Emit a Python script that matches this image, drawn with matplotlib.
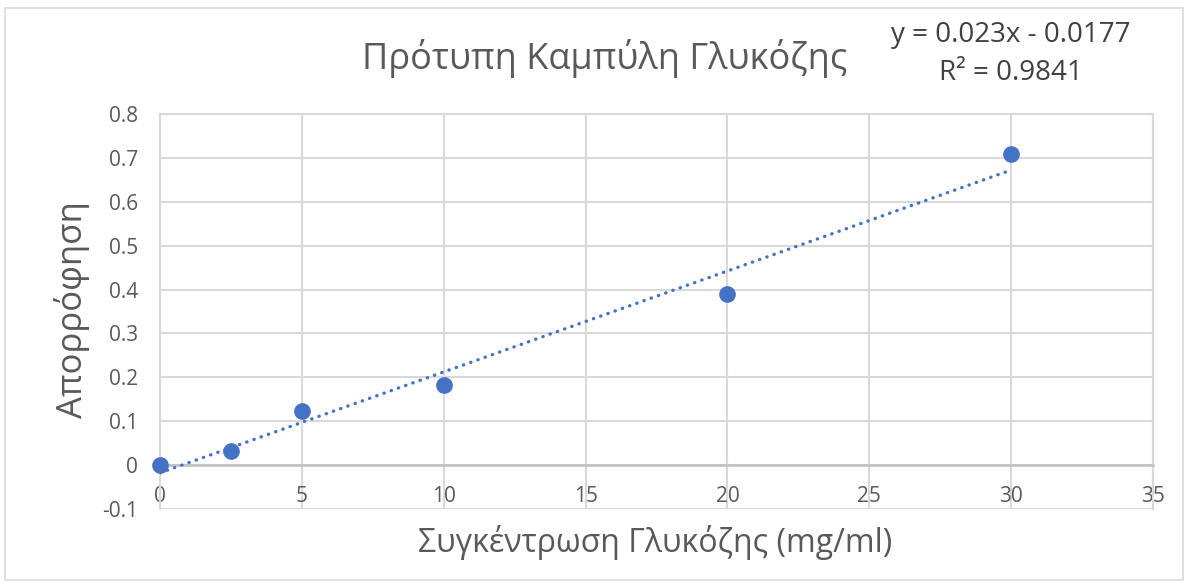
import matplotlib
matplotlib.use("Agg")
import matplotlib.pyplot as plt
from matplotlib.patches import Rectangle
import numpy as np

plt.rcParams['font.family'] = ['Open Sans', 'DejaVu Sans']

# Data
conc = [0, 2.5, 5, 10, 20, 30]
absorb = [0.0, 0.033, 0.123, 0.183, 0.391, 0.708]
slope = 0.023
intercept = -0.0177
r2 = 0.9841
title = "Πρότυπη Καμπύλη Γλυκόζης"
xlabel = "Συγκέντρωση Γλυκόζης (mg/ml)"
ylabel = "Απορρόφηση"
xticks = [0, 5, 10, 15, 20, 25, 30, 35]
yticks = [-0.1, 0, 0.1, 0.2, 0.3, 0.4, 0.5, 0.6, 0.7, 0.8]

W, H = 1187, 584
fig = plt.figure(figsize=(W/100, H/100), dpi=100)
fig.patch.set_facecolor('white')

# chart border
fig.add_artist(Rectangle((5/W, 1 - 580/H), 1178/W, (580-8)/H, transform=fig.transFigure,
                         fill=False, edgecolor='#d9d9d9', linewidth=1.2))

ax = fig.add_axes([160/W, 1 - 509/H, (1153-160)/W, (509-114)/H])
ax.set_xlim(0, 35)
ax.set_ylim(-0.1, 0.8)
ax.set_xticks(xticks)
ax.set_yticks(yticks)
ax.set_xticklabels([f"{t:g}" for t in xticks])
ax.set_yticklabels([f"{t:g}" for t in yticks])
ax.grid(True, color='#d9d9d9', linewidth=1.5, zorder=0)
ax.set_axisbelow(True)
for s in ['top', 'right', 'left']:
    ax.spines[s].set_color('#d9d9d9')
    ax.spines[s].set_linewidth(1.5)
ax.spines['bottom'].set_position(('data', 0))
ax.spines['bottom'].set_color('#bfbfbf')
ax.spines['bottom'].set_linewidth(1.8)
ax.tick_params(axis='both', length=0, labelcolor='#595959', labelsize=15)
ax.tick_params(axis='x', pad=15)
ax.tick_params(axis='y', pad=16)

xs = np.array([min(conc), max(conc)])
ax.plot(xs, slope*xs + intercept, linestyle=(0, (0.1, 2.2)), dash_capstyle='round',
        color='#4472C4', linewidth=2.4, zorder=3)
ax.plot(conc, absorb, 'o', color='#4472C4', markersize=11, zorder=4, clip_on=False)

fig.text(605/W, 1 - 58/H, title, ha='center', va='center', fontsize=26, color='#595959')
fig.text(1011/W, 1 - 35/H, f"y = {slope}x - {abs(intercept)}", ha='center', va='center',
         fontsize=20, color='#404040')
fig.text(1011/W, 1 - 73/H, f"R² = {r2}", ha='center', va='center', fontsize=20, color='#404040')
fig.text(655/W, 1 - 543/H, xlabel, ha='center', va='center', fontsize=23, color='#595959')
fig.text(72/W, 1 - 310/H, ylabel, ha='center', va='center', fontsize=25, color='#595959',
         rotation=90)

fig.savefig('out.png', dpi=100, facecolor='white')
